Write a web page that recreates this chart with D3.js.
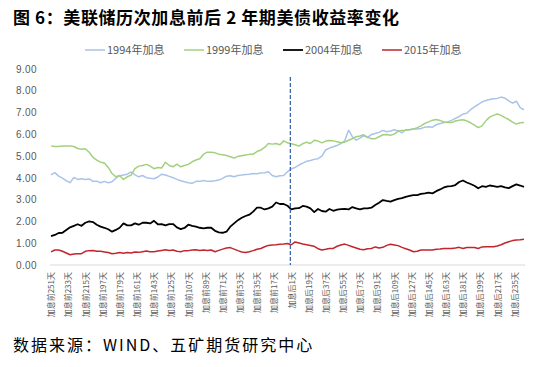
<!DOCTYPE html>
<html>
<head>
<meta charset="utf-8">
<script src="https://cdn.jsdelivr.net/npm/d3@7"></script>
<style>
  html, body { margin: 0; padding: 0; background: #fff; }
  svg { display: block; }
</style>
</head>
<body>
<svg id="chart" width="538" height="367"></svg>
<script>
// ---- data ----
const titleText = "图 6：美联储历次加息前后 2 年期美债收益率变化";
const sourceText = "数据来源：WIND、五矿期货研究中心";
const seriesNames = ["1994年加息", "1999年加息", "2004年加息", "2015年加息"];
const seriesColors = ["#A9C3EA", "#A3D07F", "#000000", "#C0262C"];

// day offset from the hike (negative = before, 0 = hike day), sampled every 4 trading days
const sampleDays = d3.range(-251, 246, 4);

const tickDays = [-251, -233, -215, -197, -179, -161, -143, -125, -107, -89, -71, -53, -35, -17,
  1, 19, 37, 55, 73, 91, 109, 127, 145, 163, 181, 199, 217, 235];
const yTicks = [0, 1, 2, 3, 4, 5, 6, 7, 8, 9];

const y1994 = [4.14, 4.24, 4.08, 3.99, 3.87, 3.78, 4.02, 3.93, 3.96, 3.93, 3.95, 3.84, 3.85, 3.78, 3.84, 3.78, 3.82, 3.99, 4.10, 4.13, 4.17, 4.27, 4.14, 4.05, 4.11, 4.01, 3.98, 3.96, 4.04, 4.17, 4.13, 4.07, 4.01, 3.93, 3.87, 3.82, 3.78, 3.75, 3.84, 3.84, 3.88, 3.84,
  3.85, 3.87, 3.90, 3.98, 4.08, 4.10, 4.05, 4.11, 4.13, 4.16, 4.17, 4.20, 4.19, 4.22, 4.24, 4.28, 4.11, 4.05, 4.10, 4.11, 4.28, 4.42, 4.48, 4.59, 4.68, 4.76, 4.80, 4.85, 4.88, 5.00, 5.28, 5.37, 5.43, 5.49, 5.58, 5.70, 6.19, 5.89, 5.73, 5.83, 5.93, 5.86,
  5.99, 6.04, 6.09, 6.18, 6.12, 6.15, 6.21, 6.16, 6.07, 6.21, 6.21, 6.25, 6.24, 6.27, 6.33, 6.35, 6.33, 6.44, 6.50, 6.54, 6.57, 6.64, 6.73, 6.82, 6.93, 6.97, 7.14, 7.26, 7.37, 7.49, 7.55, 7.60, 7.63, 7.65, 7.71, 7.66, 7.54, 7.43, 7.52, 7.23, 7.13];

const y1999 = [5.47, 5.44, 5.44, 5.46, 5.46, 5.47, 5.44, 5.35, 5.32, 5.34, 5.18, 4.94, 4.82, 4.72, 4.68, 4.48, 4.20, 4.05, 4.11, 3.93, 4.05, 4.13, 4.43, 4.54, 4.57, 4.62, 4.54, 4.42, 4.48, 4.45, 4.72, 4.57, 4.51, 4.63, 4.51, 4.57, 4.62, 4.74, 4.82, 4.88, 5.09, 5.18,
  5.18, 5.15, 5.09, 5.06, 5.03, 4.97, 4.91, 4.99, 5.02, 5.05, 5.08, 5.09, 5.21, 5.28, 5.40, 5.58, 5.55, 5.58, 5.52, 5.70, 5.61, 5.57, 5.52, 5.46, 5.57, 5.64, 5.58, 5.73, 5.69, 5.61, 5.69, 5.72, 5.70, 5.66, 5.61, 5.64, 5.73, 5.80, 5.89, 5.92, 5.98, 5.86,
  5.80, 5.80, 5.89, 5.98, 5.99, 5.96, 6.01, 6.15, 6.18, 6.19, 6.21, 6.24, 6.31, 6.39, 6.50, 6.57, 6.65, 6.68, 6.64, 6.57, 6.54, 6.54, 6.61, 6.65, 6.67, 6.62, 6.53, 6.42, 6.31, 6.39, 6.62, 6.79, 6.87, 6.93, 6.87, 6.77, 6.68, 6.56, 6.47, 6.53, 6.54];

const y2004 = [1.33, 1.38, 1.47, 1.48, 1.61, 1.73, 1.80, 1.87, 1.80, 1.94, 2.00, 1.97, 1.85, 1.76, 1.71, 1.64, 1.53, 1.61, 1.71, 1.91, 1.82, 1.82, 1.91, 1.85, 1.94, 1.94, 1.91, 2.03, 1.87, 1.88, 1.82, 1.88, 1.88, 1.73, 1.65, 1.70, 1.85, 1.80, 1.76, 1.71, 1.68, 1.71,
  1.71, 1.57, 1.50, 1.48, 1.53, 1.76, 1.91, 2.06, 2.17, 2.25, 2.31, 2.45, 2.63, 2.63, 2.55, 2.60, 2.68, 2.87, 2.80, 2.80, 2.72, 2.55, 2.60, 2.61, 2.71, 2.68, 2.60, 2.43, 2.57, 2.48, 2.45, 2.57, 2.49, 2.54, 2.57, 2.58, 2.55, 2.66, 2.60, 2.55, 2.60, 2.60,
  2.63, 2.75, 2.86, 2.98, 2.94, 2.91, 2.98, 3.04, 3.07, 3.13, 3.17, 3.21, 3.21, 3.27, 3.29, 3.32, 3.29, 3.39, 3.47, 3.56, 3.61, 3.62, 3.67, 3.81, 3.88, 3.79, 3.72, 3.64, 3.52, 3.62, 3.59, 3.65, 3.62, 3.59, 3.62, 3.56, 3.53, 3.62, 3.70, 3.65, 3.59];

const y2015 = [0.60, 0.69, 0.69, 0.63, 0.55, 0.47, 0.50, 0.52, 0.52, 0.63, 0.66, 0.67, 0.63, 0.63, 0.60, 0.57, 0.52, 0.54, 0.57, 0.54, 0.57, 0.55, 0.60, 0.58, 0.61, 0.64, 0.61, 0.61, 0.64, 0.67, 0.70, 0.67, 0.69, 0.63, 0.61, 0.66, 0.66, 0.69, 0.70, 0.67, 0.69, 0.67,
  0.69, 0.61, 0.67, 0.73, 0.78, 0.80, 0.73, 0.66, 0.60, 0.57, 0.61, 0.66, 0.72, 0.76, 0.84, 0.90, 0.92, 0.93, 0.95, 0.96, 0.99, 0.93, 1.06, 1.01, 0.96, 0.93, 0.90, 0.86, 0.75, 0.69, 0.72, 0.76, 0.76, 0.86, 0.92, 0.96, 0.90, 0.84, 0.78, 0.72, 0.70, 0.75,
  0.76, 0.83, 0.78, 0.81, 0.90, 0.95, 0.92, 0.89, 0.81, 0.75, 0.69, 0.61, 0.63, 0.69, 0.69, 0.69, 0.69, 0.72, 0.73, 0.76, 0.76, 0.76, 0.78, 0.81, 0.76, 0.80, 0.80, 0.80, 0.76, 0.83, 0.84, 0.84, 0.84, 0.87, 0.93, 1.01, 1.07, 1.12, 1.15, 1.16, 1.18];

const seriesValues = [y1994, y1999, y2004, y2015];

// ---- drawing ----
const svg = d3.select("#chart");
const W = 538, H = 367;
svg.append("rect").attr("width", W).attr("height", H).attr("fill", "#fff");

const plot = { left: 51, right: 524, top: 69, bottom: 265 };
const x = d3.scaleLinear().domain([-251, 245]).range([plot.left, plot.right]);
const y = d3.scaleLinear().domain([0, 9]).range([plot.bottom, plot.top]);

const cjk = "'Noto Sans CJK SC', 'Noto Sans', sans-serif";

// title
svg.append("text")
  .attr("x", 13).attr("y", 24)
  .attr("font-family", cjk).attr("font-weight", "bold")
  .attr("font-size", 17).attr("fill", "#000")
  .attr("letter-spacing", 0.6)
  .attr("xml:space", "preserve")
  .text(titleText);

// legend
const legend = svg.append("g").attr("transform", "translate(85,50)");
seriesNames.forEach((name, i) => {
  const g = legend.append("g").attr("transform", `translate(${i * 99},0)`);
  g.append("line").attr("x1", 0).attr("x2", 20).attr("y1", 0).attr("y2", 0)
    .attr("stroke", seriesColors[i]).attr("stroke-width", i === 2 ? 1.8 : 1.5);
  g.append("text").attr("x", 22).attr("y", 0).attr("dy", "0.36em")
    .attr("font-family", cjk).attr("font-size", 11).attr("fill", "#595959")
    .text(name);
});

// y axis (labels only)
const yAxis = d3.axisLeft(y).tickValues(yTicks).tickFormat(d3.format(".2f")).tickSize(0).tickPadding(0);
const gy = svg.append("g").attr("transform", "translate(37,0)").call(yAxis);
gy.select(".domain").remove();
gy.selectAll("text").attr("font-family", "'Liberation Sans', Arial, sans-serif")
  .attr("font-size", 10).attr("fill", "#595959").attr("letter-spacing", 0.4);

// x axis
const xAxis = d3.axisBottom(x).tickValues(tickDays)
  .tickFormat(d => d < 0 ? `加息前${-d}天` : `加息后${d}天`)
  .tickSize(0).tickSizeOuter(0).tickPadding(0);
const gx = svg.append("g").attr("transform", `translate(0,${plot.bottom})`).call(xAxis);
gx.select(".domain").remove();
gx.selectAll("text")
  .attr("font-family", cjk).attr("font-size", 8).attr("fill", "#595959")
  .attr("text-anchor", "end")
  .attr("transform", "rotate(-90)")
  .attr("x", -7).attr("y", 0).attr("dy", "0.35em");
svg.append("line").attr("x1", plot.left - 1).attr("x2", plot.right + 1)
  .attr("y1", plot.bottom).attr("y2", plot.bottom)
  .attr("stroke", "#D9D9D9").attr("stroke-width", 1);

// series lines
const line = d3.line().x((d, i) => x(sampleDays[i])).y(d => y(d));
seriesValues.forEach((vals, i) => {
  svg.append("path").datum(vals)
    .attr("fill", "none")
    .attr("stroke", seriesColors[i])
    .attr("stroke-width", i === 2 ? 1.8 : 1.5)
    .attr("stroke-linejoin", "round")
    .attr("d", line);
});

// hike-day marker
svg.append("line")
  .attr("x1", x(0)).attr("x2", x(0))
  .attr("y1", 77).attr("y2", plot.bottom)
  .attr("stroke", "#3F64AE").attr("stroke-width", 1.3)
  .attr("stroke-dasharray", "4,2");

// source
svg.append("text")
  .attr("x", 13).attr("y", 351)
  .attr("font-family", cjk).attr("font-size", 16).attr("fill", "#000")
  .attr("letter-spacing", 2)
  .text(sourceText);
</script>
</body>
</html>
